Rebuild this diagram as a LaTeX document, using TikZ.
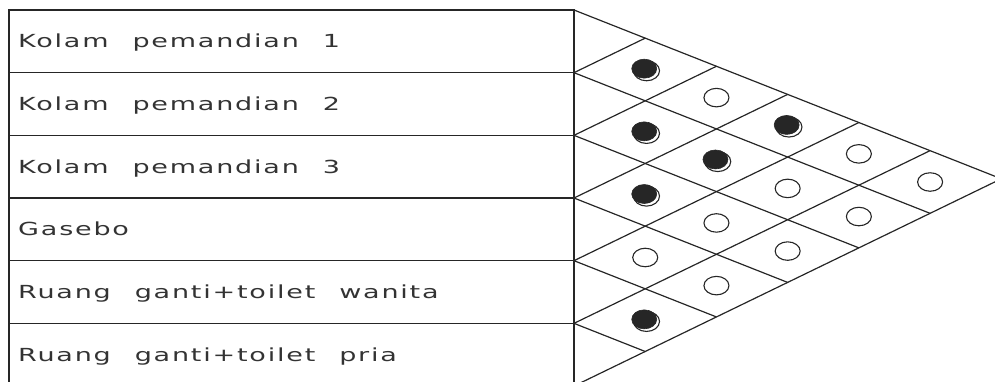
\documentclass[tikz,border=0pt]{standalone}
\usepackage{fontspec}
\newfontfamily\cadfont[FakeStretch=1.5,WordSpace=2.3,LetterSpace=10]{DejaVu Sans}
\usetikzlibrary{shapes.geometric}
\tikzstyle{grid line} = [draw=black!85, line width=1.2pt]
\tikzstyle{row label} = [anchor=base west, inner sep=0pt, text=black!80,
  font=\cadfont\fontsize{18}{18}\selectfont]
\tikzstyle{open mark} = [ellipse, draw=black!85, line width=1.1pt,
  minimum width=25pt, minimum height=18.5pt, inner sep=0pt]
\tikzstyle{full mark} = [ellipse, fill=black!85, draw=black!85, line width=0.6pt,
  minimum width=25pt, minimum height=19pt, inner sep=0pt]

\begin{document}
\begin{tikzpicture}[x=1pt,y=-1pt]
  \useasboundingbox (0,0) rectangle (995,381);
  \clip (0,0) rectangle (995,381);

  % row boundaries on the table edge
  \foreach \k in {0,...,6} {
    \pgfmathsetmacro\b{10+62.67*\k}
    \coordinate (b\k) at (574,\b);
    \coordinate (l\k) at (9,\b);
  }

  % table
  \draw[grid line] (l6) -- (l0) -- (b0) -- (b6);
  \foreach \k in {1,...,5}
    \draw[grid line] (l\k) -- (b\k);

  % diagonal grid
  \foreach \k in {0,...,5} {
    \pgfmathsetmacro\dd{(62.67*(6-\k))/0.88}
    \draw[grid line] (b\k) -- ++(\dd,{0.395*\dd});
  }
  \foreach \k in {1,...,6} {
    \pgfmathsetmacro\du{(62.67*\k)/0.88}
    \draw[grid line] (b\k) -- ++(\du,{-0.485*\du});
  }

  % row labels
  \node[row label] (r1) at (18,47.8)  {Kolam pemandian 1};
  \node[row label] (r2) at (18,110.5) {Kolam pemandian 2};
  \node[row label] (r3) at (18,173.2) {Kolam pemandian 3};
  \node[row label] (r4) at (18,235.8) {Gasebo};
  \node[row label] (r5) at (18,298.5) {Ruang ganti+toilet wanita};
  \node[row label] (r6) at (18,361.2) {Ruang ganti+toilet pria};

  % strong relation
  \foreach \i/\j in {1/2,2/3,3/4,5/6,2/4,1/4} {
    \pgfmathsetmacro\dx{71.22*(\j-\i)}
    \pgfmathsetmacro\cy{10+62.67*(\i-0.5)+0.395*\dx}
    \node[open mark, minimum width=26pt, minimum height=20pt] (m\i\j) at ({574+\dx+1.3},{\cy+1.3}) {};
    \node[full mark] (f\i\j) at ({574+\dx-1},{\cy-0.8}) {};
  }

  % weak relation
  \foreach \i/\j in {4/5,1/3,3/5,4/6,2/5,3/6,1/5,2/6,1/6} {
    \pgfmathsetmacro\dx{71.22*(\j-\i)}
    \pgfmathsetmacro\cy{10+62.67*(\i-0.5)+0.395*\dx}
    \node[open mark] (m\i\j) at ({574+\dx},{\cy}) {};
  }
\end{tikzpicture}
\end{document}
